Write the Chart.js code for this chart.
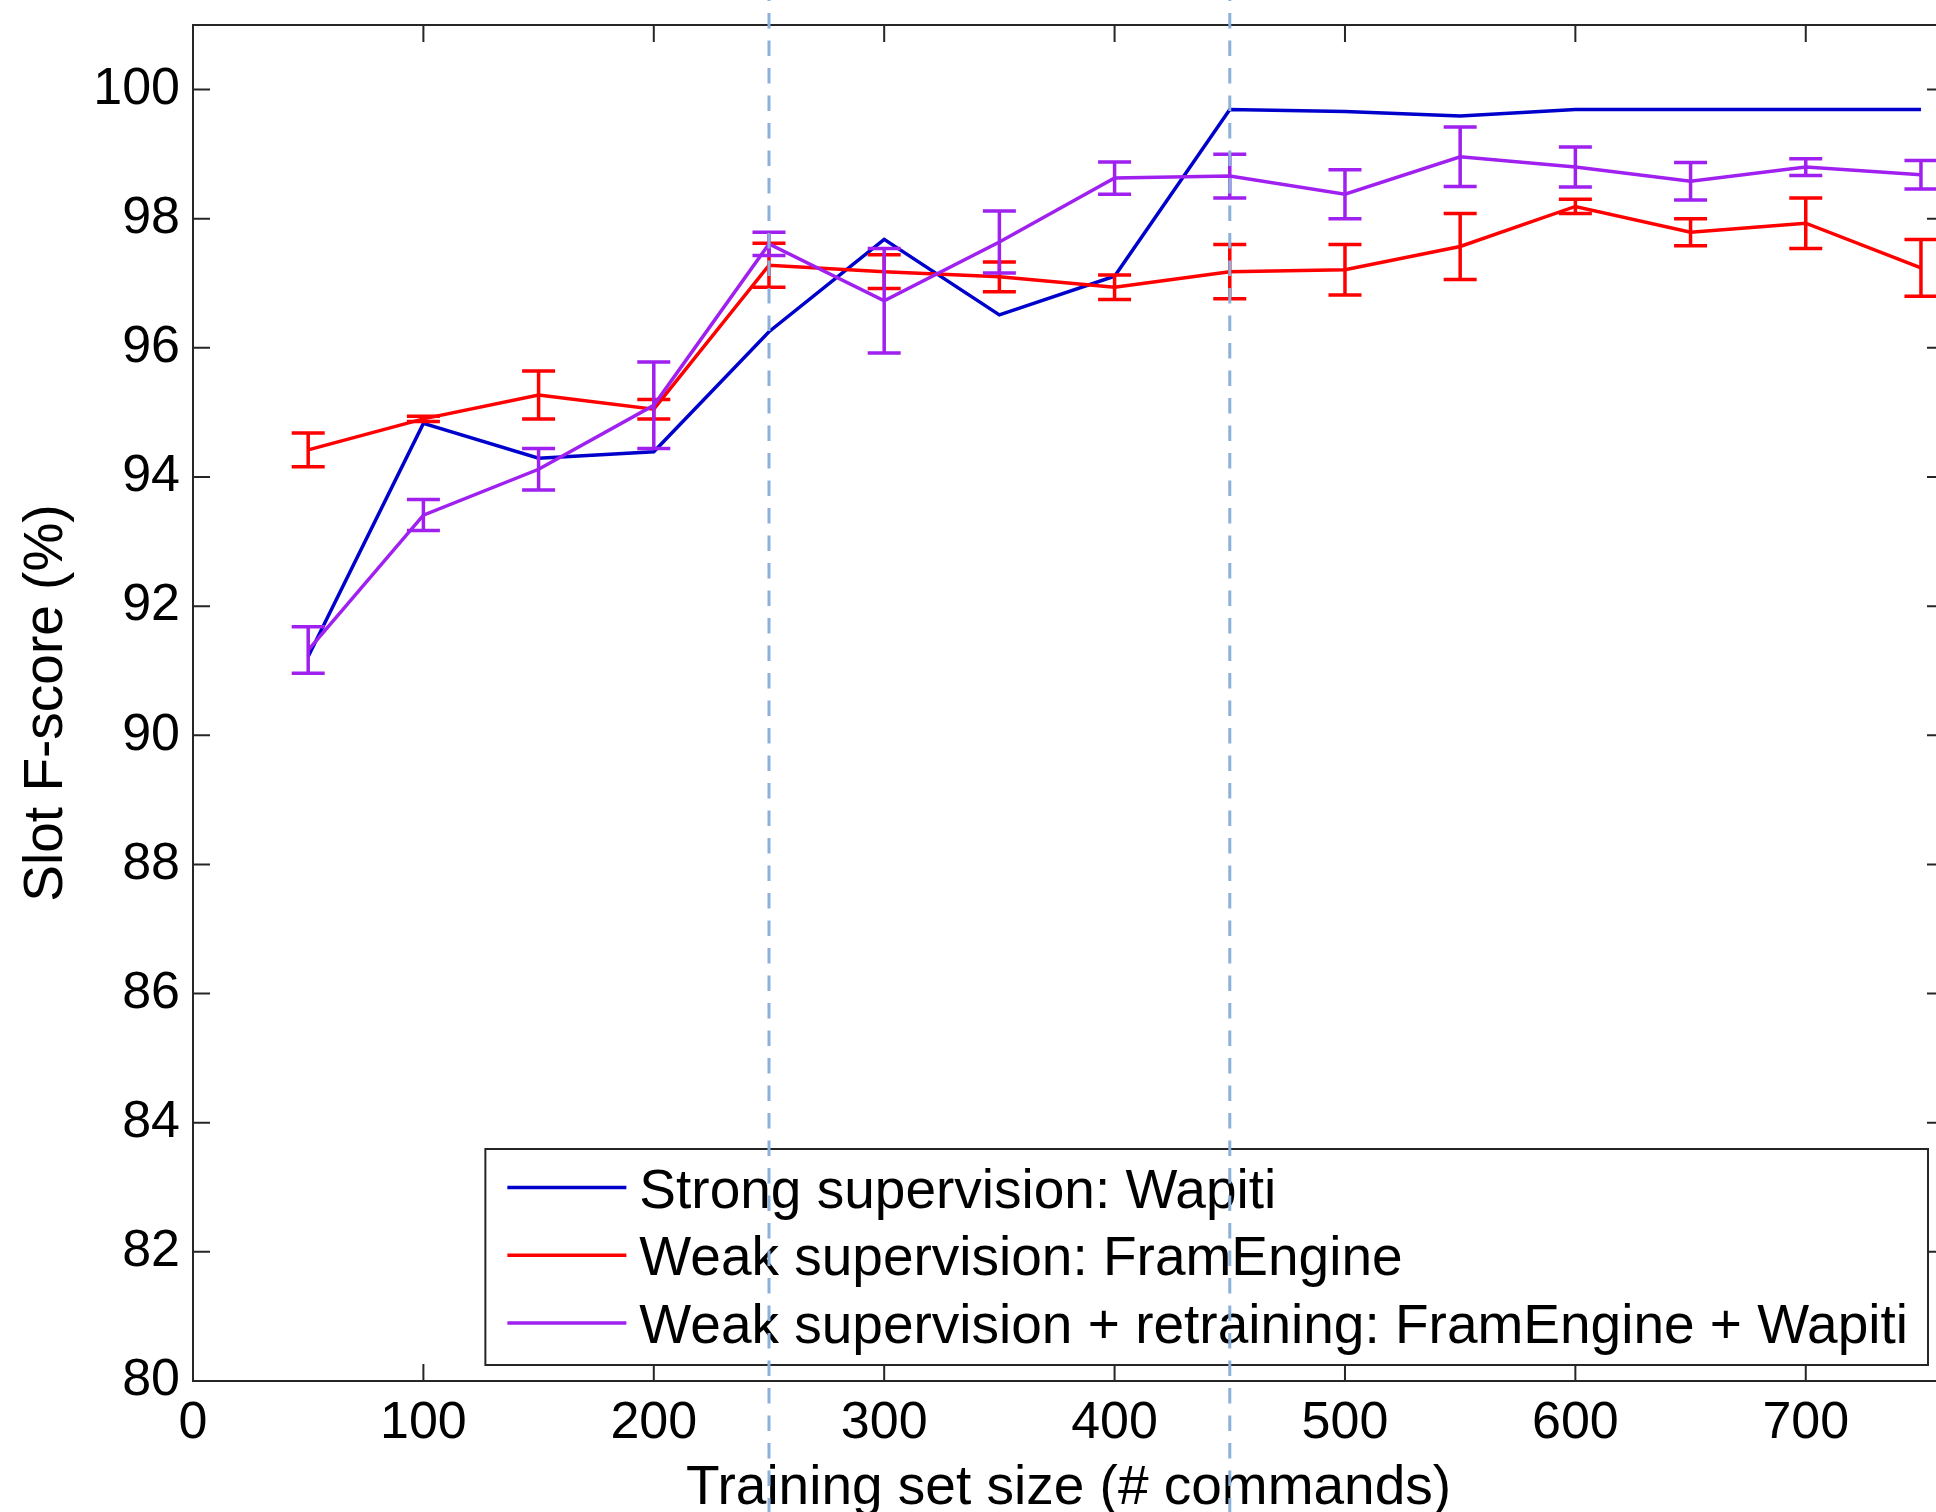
<!DOCTYPE html>
<html>
<head>
<meta charset="utf-8">
<title>Slot F-score vs training set size</title>
<script src="https://cdn.jsdelivr.net/npm/chart.js@4.4.1/dist/chart.umd.min.js"></script>
<style>
    html, body { margin: 0; padding: 0; background: #fff; overflow: hidden; }
    #chart-wrap { position: relative; width: 1952px; height: 1530px; }
</style>
</head>
<body>
<div id="chart-wrap"><canvas id="chart"></canvas></div>
<script>
// training set sizes (# commands)
const trainingSizes = [50, 100, 150, 200, 250, 300, 350, 400, 450, 500, 550, 600, 650, 700, 750];

// Strong supervision: Wapiti
const strongScores = [91.22, 94.83, 94.29, 94.39, 96.25, 97.68, 96.51, 97.11, 99.69, 99.66, 99.59, 99.69, 99.69, 99.69, 99.69];

// Weak supervision: FramEngine (mean and half-height of error bar)
const weakScores = [94.42, 94.90, 95.27, 95.05, 97.28, 97.18, 97.10, 96.94, 97.18, 97.21, 97.57, 98.19, 97.79, 97.93, 97.24];
const weakErrors = [0.26, 0.04, 0.37, 0.15, 0.34, 0.26, 0.23, 0.19, 0.42, 0.39, 0.51, 0.11, 0.21, 0.39, 0.44];

// Weak supervision + retraining: FramEngine + Wapiti
const retrainScores = [91.32, 93.41, 94.12, 95.11, 97.61, 96.73, 97.64, 98.63, 98.66, 98.38, 98.96, 98.80, 98.58, 98.80, 98.68];
const retrainErrors = [0.36, 0.24, 0.32, 0.67, 0.18, 0.81, 0.48, 0.25, 0.34, 0.38, 0.46, 0.31, 0.29, 0.13, 0.22];

const seriesLabels = [
    "Strong supervision: Wapiti",
    "Weak supervision: FramEngine",
    "Weak supervision + retraining: FramEngine + Wapiti"
];
const seriesColors = ["#0000cc", "#ff0000", "#a020f0"];

const xTickValues = [0, 100, 200, 300, 400, 500, 600, 700];
const yTickValues = [80, 82, 84, 86, 88, 90, 92, 94, 96, 98, 100];

// vertical dashed reference lines
const markerSizes = [250, 450];

const FONT = '"Liberation Sans", Arial, Helvetica, sans-serif';
const TICK_LEN = 17;

function toPoints(ys) {
    return trainingSizes.map((x, i) => ({ x: x, y: ys[i] }));
}

// box round the axes with inward ticks on all four sides
const framePlugin = {
    id: "frame",
    beforeDatasetsDraw(chart) {
        const { ctx, chartArea: a, scales } = chart;
        ctx.save();
        ctx.strokeStyle = "#262626";
        ctx.lineWidth = 2;
        ctx.strokeRect(a.left, a.top, a.right - a.left, a.bottom - a.top);
        ctx.beginPath();
        xTickValues.forEach(v => {
            const px = scales.x.getPixelForValue(v);
            ctx.moveTo(px, a.bottom); ctx.lineTo(px, a.bottom - TICK_LEN);
            ctx.moveTo(px, a.top); ctx.lineTo(px, a.top + TICK_LEN);
        });
        yTickValues.forEach(v => {
            const py = scales.y.getPixelForValue(v);
            ctx.moveTo(a.left, py); ctx.lineTo(a.left + TICK_LEN, py);
            ctx.moveTo(a.right, py); ctx.lineTo(a.right - TICK_LEN, py);
        });
        ctx.stroke();
        ctx.restore();
    }
};

// error bars, drawn right after their own line
const errorBarPlugin = {
    id: "errorBars",
    afterDatasetDraw(chart, args) {
        const ds = chart.data.datasets[args.index];
        if (!ds.errors) return;
        const { ctx } = chart;
        const yScale = chart.scales.y;
        const half = 16.5;
        ctx.save();
        ctx.strokeStyle = ds.borderColor;
        ctx.lineWidth = 3.5;
        args.meta.data.forEach((pt, i) => {
            const v = ds.data[i].y;
            const e = ds.errors[i];
            const yTop = yScale.getPixelForValue(v + e);
            const yBot = yScale.getPixelForValue(v - e);
            ctx.beginPath();
            ctx.moveTo(pt.x, yTop); ctx.lineTo(pt.x, yBot);
            ctx.moveTo(pt.x - half, yTop); ctx.lineTo(pt.x + half, yTop);
            ctx.moveTo(pt.x - half, yBot); ctx.lineTo(pt.x + half, yBot);
            ctx.stroke();
        });
        ctx.restore();
    }
};

// legend box in the lower right corner of the axes
const legendBoxPlugin = {
    id: "legendBox",
    afterDatasetsDraw(chart) {
        const { ctx, chartArea: a } = chart;
        ctx.save();
        ctx.font = "55px " + FONT;
        const textW = Math.max(...seriesLabels.map(t => ctx.measureText(t).width));
        const right = a.right - 16;
        const bottom = a.bottom - 16;
        const height = 216;
        const width = 22 + 119 + 13 + textW + 20;
        const left = right - width;
        const top = bottom - height;
        ctx.fillStyle = "#fff";
        ctx.fillRect(left, top, width, height);
        ctx.strokeStyle = "#262626";
        ctx.lineWidth = 2;
        ctx.strokeRect(left, top, width, height);
        ctx.textBaseline = "middle";
        ctx.textAlign = "left";
        seriesLabels.forEach((label, i) => {
            const y = top + 38.5 + i * 67.7;
            ctx.strokeStyle = seriesColors[i];
            ctx.lineWidth = 3.5;
            ctx.beginPath();
            ctx.moveTo(left + 22, y);
            ctx.lineTo(left + 141, y);
            ctx.stroke();
            ctx.fillStyle = "#000";
            ctx.fillText(label, left + 154, y + 5);
        });
        ctx.restore();
    }
};

// light blue dashed lines across the whole figure
const markerPlugin = {
    id: "markers",
    afterDraw(chart) {
        const { ctx } = chart;
        ctx.save();
        ctx.strokeStyle = "rgb(140,176,220)";
        ctx.lineWidth = 3;
        ctx.setLineDash([15.5, 12]);
        ctx.lineDashOffset = 14.5;
        markerSizes.forEach(v => {
            const px = chart.scales.x.getPixelForValue(v);
            ctx.beginPath();
            ctx.moveTo(px, 0);
            ctx.lineTo(px, chart.height);
            ctx.stroke();
        });
        ctx.restore();
    }
};

const scoreSets = [strongScores, weakScores, retrainScores];
const errorSets = [null, weakErrors, retrainErrors];

const datasets = seriesLabels.map((label, i) => ({
    label: label,
    data: toPoints(scoreSets[i]),
    errors: errorSets[i],
    borderColor: seriesColors[i],
    backgroundColor: seriesColors[i],
    borderWidth: 3.5,
    pointRadius: 0,
    tension: 0,
    fill: false,
    order: 3 - i
}));

new Chart(document.getElementById("chart"), {
    type: "line",
    data: { datasets: datasets },
    options: {
        responsive: true,
        maintainAspectRatio: false,
        animation: false,
        layout: { padding: { top: 25, right: 8, left: 0, bottom: 0 } },
        plugins: {
            legend: { display: false },
            tooltip: { enabled: false }
        },
        scales: {
            x: {
                type: "linear",
                min: 0,
                max: 760,
                afterBuildTicks: s => { s.ticks = xTickValues.map(v => ({ value: v })); },
                afterFit: s => { s.height = 149; s.paddingLeft = 0; s.paddingRight = 0; },
                grid: { display: false, drawTicks: false },
                border: { display: false },
                ticks: {
                    color: "#000",
                    font: { family: FONT, size: 52 },
                    padding: 11,
                    maxRotation: 0,
                    autoSkip: false
                },
                title: {
                    display: true,
                    text: "Training set size (# commands)",
                    color: "#000",
                    font: { family: FONT, size: 55 },
                    padding: { top: 0, bottom: 8 }
                }
            },
            y: {
                type: "linear",
                min: 80,
                max: 101,
                afterBuildTicks: s => { s.ticks = yTickValues.map(v => ({ value: v })); },
                afterFit: s => { s.width = 193; s.paddingTop = 0; s.paddingBottom = 0; },
                grid: { display: false, drawTicks: false },
                border: { display: false },
                ticks: {
                    color: "#000",
                    font: { family: FONT, size: 52 },
                    padding: 13,
                    autoSkip: false
                },
                title: {
                    display: true,
                    text: "Slot F-score (%)",
                    color: "#000",
                    font: { family: FONT, size: 55 },
                    padding: { top: 14, bottom: 0 }
                }
            }
        }
    },
    plugins: [framePlugin, errorBarPlugin, legendBoxPlugin, markerPlugin]
});
</script>
</body>
</html>
